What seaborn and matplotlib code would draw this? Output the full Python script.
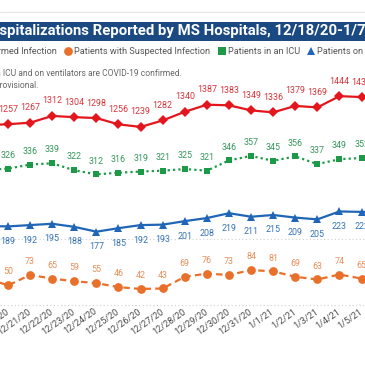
import numpy as np
import pandas as pd
import seaborn as sns
import matplotlib
matplotlib.use("Agg")
import matplotlib.pyplot as plt
from matplotlib.lines import Line2D
from matplotlib.patches import Rectangle

# ---------------- data ----------------
dates = ['12/19/20', '12/20/20', '12/21/20', '12/22/20', '12/23/20', '12/24/20',
         '12/25/20', '12/26/20', '12/27/20', '12/28/20', '12/29/20', '12/30/20',
         '12/31/20', '1/1/21', '1/2/21', '1/3/21', '1/4/21', '1/5/21', '1/6/21']
confirmed = [1250, 1257, 1267, 1312, 1304, 1298, 1256, 1239, 1282, 1340, 1387,
             1383, 1349, 1336, 1379, 1369, 1444, 1438, 1430]
icu = [323, 326, 336, 339, 322, 312, 316, 319, 321, 325, 321, 346, 357, 345,
       356, 337, 349, 352, 350]
ventilators = [190, 189, 192, 195, 188, 177, 185, 192, 193, 201, 208, 219, 211,
               215, 209, 205, 223, 222, 220]
suspected = [66, 50, 73, 65, 59, 55, 46, 42, 43, 69, 76, 73, 84, 81, 69, 63, 74,
             65, 64]
series_names = ['Patients with Confirmed Infection', 'Patients with Suspected Infection',
                'Patients in an ICU', 'Patients on Ventilators']
title = 'COVID-19 Hospitalizations Reported by MS Hospitals, 12/18/20-1/7/21'
note1 = '*Patients in ICU and on ventilators are COVID-19 confirmed.'
note2 = 'Data are provisional.'

df = pd.DataFrame({'pos': np.arange(len(dates)), 'date': dates,
                   'confirmed': confirmed, 'icu': icu,
                   'ventilators': ventilators, 'suspected': suspected})

# ---------------- style ----------------
sns.set_style('white')
plt.rcParams['font.family'] = ['Roboto', 'DejaVu Sans']

RED, RED_L = '#E3161E', '#D8353A'
ORANGE, ORANGE_L = '#E8702A', '#E98E58'
GREEN, GREEN_L = '#1C9A48', '#36985C'
BLUE, BLUE_L = '#2066B6', '#3573B8'
NAVY = '#1B4A82'
GRAY = '#4a4a4a'

W = H = 365
fig = plt.figure(figsize=(W / 100, H / 100), dpi=100, facecolor='white')
renderer = fig.canvas.get_renderer()


def width_px(s, **kw):
    t = fig.text(0, 0, s, **kw)
    w = t.get_window_extent(renderer).width
    t.remove()
    return w


def fit_size(s, target_px, **kw):
    return 10 * target_px / width_px(s, fontsize=10, **kw)


# background / decoration axes in pixel coordinates
bg = fig.add_axes([0, 0, 1, 1])
bg.set_xlim(0, W)
bg.set_ylim(H, 0)
bg.axis('off')
bg.axhline(11.7, color='#e4e4e4', lw=0.8)
bg.add_patch(Rectangle((0, 21.7), W, 19.2, color=NAVY, lw=0))
bg.axhline(239, color='#cfcfcf', lw=0.8, ls=(0, (1, 2.2)))
bg.axhline(305, color='#cfcfcf', lw=0.8, ls=(0, (1, 2.2)))

# data axes
plot_top, plot_bot = 90, 305
rect = [0, (H - plot_bot) / H, 1, (plot_bot - plot_top) / H]
ax_o = fig.add_axes(rect)
ax_o.patch.set_visible(False)
ax_b = ax_o.twinx()
ax_g = ax_o.twinx()
ax_r = ax_o.twinx()

xlim = (0.638, 17.154)
specs = [
    (ax_o, 'suspected', ORANGE, ORANGE_L, 'o', 6.3, (0, (2.9, 1.9)), 9.6, (6.3, 484)),
    (ax_b, 'ventilators', BLUE, BLUE_L, '^', 6.0, '-', -10.8, (10.4, 499)),
    (ax_g, 'icu', GREEN, GREEN_L, 's', 4.6, (0, (1, 1.4)), 9.6, (-6.6, 517.8)),
    (ax_r, 'confirmed', RED, RED_L, 'D', 4.6, '-', 10.8, (52, 1485)),
]
for ax, col, c, cl, mk, ms, ls, off, ylim in specs:
    sns.lineplot(data=df, x='pos', y=col, ax=ax, color=c, marker=mk,
                 markersize=ms, markeredgewidth=0, lw=1.6, linestyle=ls)
    ax.set_ylim(*ylim)
    ax.set_ylabel('')
    ax.set_xlabel('')
    ax.set_yticks([])
    for s in ax.spines.values():
        s.set_visible(False)
    for x, v in zip(df['pos'], df[col]):
        ax.annotate(str(v), (x, v), xytext=(0, off), textcoords='offset points',
                    ha='center', va='center', fontsize=6.4, color=cl)

ax_o.set_xticks(df['pos'], df['date'])
ax_o.set_xlim(*xlim)
ax_o.tick_params(axis='x', length=0, pad=4, labelsize=6.6, labelcolor=GRAY)
for lbl in ax_o.get_xticklabels():
    lbl.set_rotation(35)
    lbl.set_ha('right')
    lbl.set_va('center')
    lbl.set_rotation_mode('anchor')


# ---------------- texts cut by the crop ----------------
def cut_text(full, visible_from, x_px, y_px, **kw):
    pre = full[:full.index(visible_from)]
    w = width_px(pre, **kw) if pre.strip() else 0
    fig.text((x_px - w) / W, 1 - y_px / H, full, ha='left', va='center', **kw)


fs_title = fit_size('spitalizations Reported by MS Hospitals, 12/18/20-1/7', 366,
                    fontweight='bold')
cut_text(title, 'spitalizations', -1, 31.5, fontsize=fs_title, fontweight='bold',
         color='white')
fs_note = fit_size('ICU and on ventilators are COVID-19 confirmed.', 179)
cut_text(note1, 'ICU and', 3, 74, fontsize=fs_note, color='#666666')
cut_text(note2, 'rovisional', 0, 86, fontsize=fs_note, color='#666666')

fs_leg = fit_size(series_names[1], 137)
handles = [Line2D([], [], color=RED, marker='D', ls='none', ms=4.6, mew=0),
           Line2D([], [], color=ORANGE, marker='o', ls='none', ms=6.3, mew=0),
           Line2D([], [], color=GREEN, marker='s', ls='none', ms=5.2, mew=0),
           Line2D([], [], color=BLUE, marker='^', ls='none', ms=6.0, mew=0)]
leg = fig.legend(handles, series_names, loc='center left', bbox_to_anchor=(0, 1 - 52 / H),
                 ncol=4, frameon=False, fontsize=fs_leg, handlelength=0.7,
                 handletextpad=0.3, columnspacing=0.9, borderpad=0, borderaxespad=0,
                 labelcolor='#555555')
fig.canvas.draw()
x0 = leg.get_texts()[1].get_window_extent(renderer).x0
leg.set_bbox_to_anchor(((74 - x0) / W, 1 - 52 / H), transform=fig.transFigure)

fig.savefig('out.png', dpi=100, facecolor='white')
